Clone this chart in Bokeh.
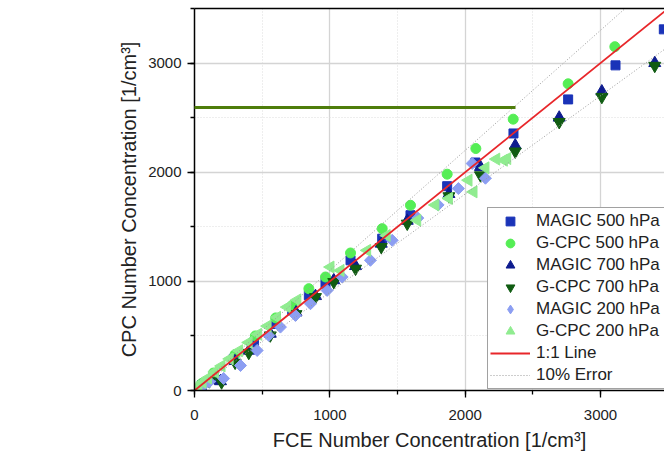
import math
from bokeh.plotting import figure
from bokeh.models import (Range1d, SingleIntervalTicker, LinearAxis, FixedTicker,
                          Legend, LegendItem, BoxAnnotation, CDSView, IndexFilter)
from bokeh.embed import file_html
from bokeh.resources import INLINE

# ---------------- data ----------------
magic500_x = [55, 140, 290, 440, 600, 722, 845, 968, 1153, 1387, 1596, 1867, 2076, 2357, 2761, 3111, 3468]
magic500_y = [50, 130, 290, 440, 610, 734, 872, 979, 1193, 1391, 1606, 1872, 2089, 2355, 2667, 2979, 3309]

gcpc500_x = [55, 140, 300, 450, 600, 722, 845, 968, 1153, 1387, 1596, 1867, 2079, 2355, 2761, 3106]
gcpc500_y = [65, 160, 330, 500, 665, 780, 933, 1040, 1260, 1483, 1697, 1982, 2217, 2486, 2810, 3150]

magic700_x = [40, 110, 192, 300, 401, 560, 750, 894, 1029, 1190, 1380, 1572, 1880, 2113, 2370, 2695, 3010, 3401]
magic700_y = [35, 95, 85, 270, 365, 520, 715, 865, 1010, 1140, 1345, 1555, 1800, 2048, 2245, 2500, 2740, 3000]

gcpc700_x = [40, 110, 200, 300, 401, 560, 750, 894, 1029, 1190, 1380, 1572, 1880, 2113, 2370, 2695, 3010, 3401]
gcpc700_y = [25, 85, 75, 255, 345, 505, 700, 856, 994, 1116, 1315, 1529, 1780, 1972, 2190, 2460, 2690, 2975]

magic200_x = [20, 60, 110, 215, 340, 463, 549, 635, 746, 857, 980, 1091, 1300, 1461, 1650, 1800, 1950, 2052, 2150]
magic200_y = [10, 40, 80, 110, 229, 367, 505, 581, 688, 795, 917, 1040, 1193, 1376, 1580, 1700, 1850, 2080, 1945]

gcpc200_x = [10, 30, 60, 100, 150, 200, 260, 330, 400, 470, 540, 610, 685, 760, 1005, 1079, 1276, 1420,
             1646, 1780, 1880, 2025, 2062, 2150, 2230, 2286, 2311]
gcpc200_y = [15, 40, 75, 115, 170, 225, 290, 365, 440, 515, 590, 670, 764, 830, 1131, 1100, 1284, 1420,
             1560, 1700, 1760, 1927, 1820, 2040, 2120, 2110, 2125]

line_x = [0, 3500]
one_to_one_y = [0, 3500]
plus10_y = [0, 3850]
minus10_y = [0, 3150]

x_title = "FCE Number Concentration [1/cm³]"
y_title = "CPC Number Concentration [1/cm³]"
labels = ["MAGIC 500 hPa", "G-CPC 500 hPa", "MAGIC 700 hPa", "G-CPC 700 hPa",
          "MAGIC 200 hPa", "G-CPC 200 hPa", "1:1 Line", "10% Error"]

FONT = "Liberation Sans"

p = figure(width=664, height=457, output_backend="svg", toolbar_location=None,
           x_range=Range1d(0, 3473), y_range=Range1d(0, 3500),
           min_border_left=194, min_border_right=0, min_border_top=8, min_border_bottom=67,
           x_axis_label=x_title, y_axis_label=y_title)
p.outline_line_color = None
p.background_fill_color = "white"
p.border_fill_color = "white"

for ax in (p.xaxis[0], p.yaxis[0]):
    ax.ticker = SingleIntervalTicker(interval=1000, num_minor_ticks=2)
    ax.axis_line_color = "black"
    ax.axis_line_width = 1.5
    ax.major_tick_line_color = "black"
    ax.major_tick_line_width = 1.3
    ax.minor_tick_line_color = "black"
    ax.minor_tick_line_width = 1.3
    ax.major_tick_in = 0
    ax.major_tick_out = 7
    ax.minor_tick_in = 0
    ax.minor_tick_out = 4
    ax.major_label_text_font = FONT
    ax.major_label_text_font_size = "15px"
    ax.major_label_text_color = "#222222"
    ax.axis_label_text_font = FONT
    ax.axis_label_text_font_size = "20px"
    ax.axis_label_text_font_style = "normal"
    ax.axis_label_text_color = "#222222"

p.xaxis.major_label_standoff = 12
p.xaxis.axis_label_standoff = 6
p.yaxis.major_label_standoff = 6
p.yaxis.axis_label_standoff = 5

top = LinearAxis(ticker=FixedTicker(ticks=[]), major_label_text_font_size="0px",
                 major_tick_out=0, major_tick_in=0, minor_tick_out=0, minor_tick_in=0,
                 major_label_standoff=0, axis_line_width=1.5, axis_line_color="black")
p.add_layout(top, "above")

for g in (p.xgrid[0], p.ygrid[0]):
    g.grid_line_color = "#d4d4d4"
    g.grid_line_width = 1.3
    g.minor_grid_line_color = "#dcdcdc"
    g.minor_grid_line_width = 1
    g.minor_grid_line_dash = "1 2"

C_M500, C_G500, C_M700, C_G700, C_M200, C_G200 = (
    "#1a33b8", "#55ee55", "#0d1b8e", "#105c12", "#8c9ef2", "#90ec90")

r1 = p.scatter(magic500_x, magic500_y, marker="square", size=9, color=C_M500)
r2 = p.scatter(gcpc500_x, gcpc500_y, marker="circle", size=10, color=C_G500)
r3 = p.scatter(magic700_x, magic700_y, marker="triangle", size=12, color=C_M700)
r4 = p.scatter(gcpc700_x, gcpc700_y, marker="inverted_triangle", size=12, color=C_G700)

# legend proxy for the diamond series (legend glyphs are drawn unrotated); it only
# shows the first MAGIC 200 point, hidden under the rotated square drawn next
r5_leg = p.scatter(magic200_x, magic200_y, marker="diamond", size=9, color=C_M200,
                   view=CDSView(filter=IndexFilter(indices=[0])))
r5 = p.scatter(magic200_x, magic200_y, marker="square", angle=math.pi / 4, size=8.5, color=C_M200)
r6 = p.scatter(gcpc200_x, gcpc200_y, marker="triangle", angle=math.pi / 2, size=12, color=C_G200)

r8a = p.line(line_x, plus10_y, line_color="#9a9a9a", line_width=1, line_dash="1 2")
r8b = p.line(line_x, minus10_y, line_color="#9a9a9a", line_width=1, line_dash="1 2")
r7 = p.line(line_x, one_to_one_y, line_color="#e8262a", line_width=1.8)

legend = Legend(items=[LegendItem(label=lab, renderers=[r]) for lab, r in
                       zip(labels, [r1, r2, r3, r4, r5_leg, r6, r7, r8a])],
                location=(293, 1), orientation="vertical",
                label_text_font=FONT, label_text_font_size="17px", label_text_color="#222222",
                glyph_width=40, glyph_height=22, label_height=22, label_width=140,
                label_standoff=6, spacing=0, padding=2, margin=0,
                border_line_color="#444444", border_line_width=1,
                background_fill_color="white", background_fill_alpha=1.0)
p.add_layout(legend)

# green horizontal stroke across the upper part of the picture
stroke = BoxAnnotation(left=6, right=515, top=105.5, bottom=108.5,
                       left_units="canvas", right_units="canvas",
                       top_units="canvas", bottom_units="canvas",
                       fill_color="#4e7d0b", fill_alpha=1.0, line_color=None, level="overlay")
p.add_layout(stroke)

open("out.html", "w").write(file_html(p, INLINE))
